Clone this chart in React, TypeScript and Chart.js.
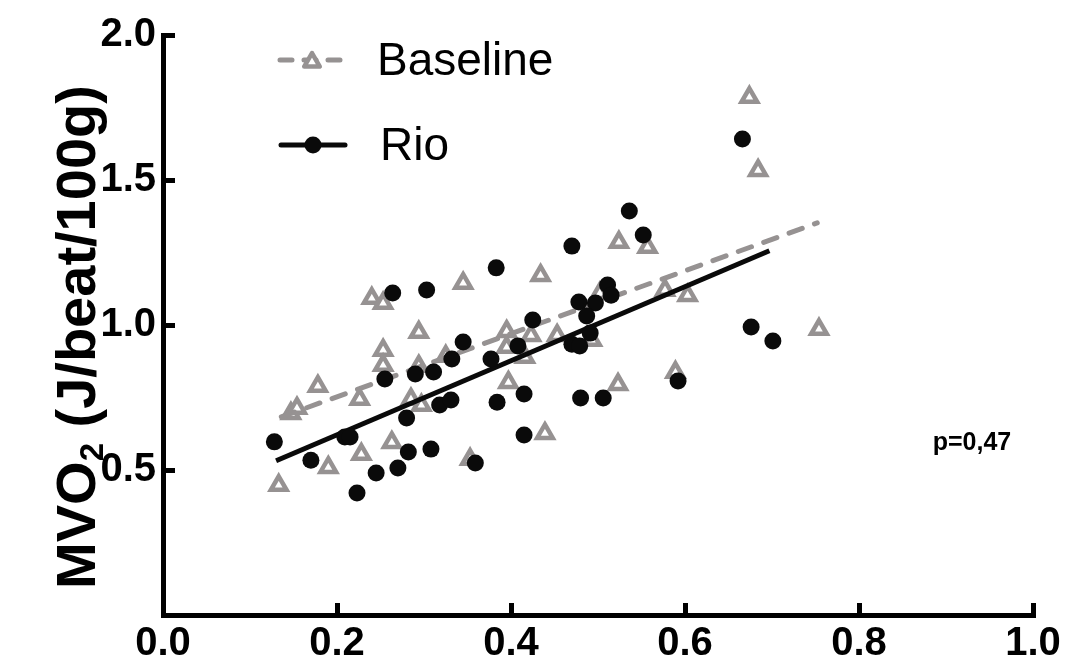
import React, { useEffect, useRef } from 'react';
import { Chart, registerables } from 'chart.js';

Chart.register(...registerables);

// ---- Data ----
const baselineX = [0.133, 0.147, 0.154, 0.178, 0.190, 0.228, 0.226, 0.240, 0.253, 0.253, 0.253, 0.263, 0.285, 0.297, 0.294, 0.294, 0.325, 0.345, 0.353, 0.395, 0.395, 0.397, 0.416, 0.423, 0.434, 0.439, 0.453, 0.493, 0.502, 0.524, 0.557, 0.523, 0.577, 0.603, 0.589, 0.674, 0.684, 0.754];
const baselineY = [0.447, 0.695, 0.713, 0.789, 0.509, 0.554, 0.744, 1.092, 1.075, 0.913, 0.861, 0.595, 0.744, 0.723, 0.975, 0.858, 0.892, 1.144, 0.537, 0.978, 0.923, 0.802, 0.889, 0.964, 1.171, 0.626, 0.964, 0.947, 1.109, 1.285, 1.268, 0.795, 1.120, 1.102, 0.837, 1.785, 1.533, 0.985];

const rioX = [0.128, 0.170, 0.209, 0.215, 0.223, 0.245, 0.270, 0.282, 0.280, 0.308, 0.359, 0.318, 0.331, 0.384, 0.415, 0.415, 0.255, 0.290, 0.311, 0.332, 0.345, 0.377, 0.264, 0.303, 0.383, 0.408, 0.425, 0.470, 0.536, 0.552, 0.666, 0.511, 0.515, 0.478, 0.497, 0.487, 0.491, 0.470, 0.479, 0.480, 0.506, 0.592, 0.676, 0.701];
const rioY = [0.597, 0.534, 0.614, 0.614, 0.421, 0.490, 0.507, 0.562, 0.679, 0.572, 0.524, 0.724, 0.741, 0.734, 0.762, 0.621, 0.814, 0.831, 0.838, 0.883, 0.941, 0.883, 1.110, 1.121, 1.197, 0.928, 1.017, 1.272, 1.393, 1.310, 1.641, 1.138, 1.103, 1.079, 1.076, 1.031, 0.972, 0.934, 0.928, 0.748, 0.748, 0.807, 0.993, 0.945];

const baselineFitX = [0.136, 0.752];
const baselineFitY = [0.683, 1.352];
const rioFitX = [0.130, 0.697];
const rioFitY = [0.532, 1.256];

const xTicks = [0, 0.2, 0.4, 0.6, 0.8, 1.0];
const yTicks = [0.5, 1.0, 1.5, 2.0];
const seriesNames = ['Baseline', 'Rio'];
const yTitleMain = 'MVO';
const yTitleSub = '2';
const yTitleRest = ' (J/beat/100g)';
const pValueText = 'p=0,47';

const GRAY = 'rgb(150,146,146)';
const BLACK = '#0a0a0a';
const FONT = '"Liberation Sans", Arial, Helvetica, sans-serif';

const toPoints = (xs: number[], ys: number[]) => xs.map((x, i) => ({ x, y: ys[i] }));

const decorPlugin = {
  id: 'decor',
  afterDraw(chart: any) {
    const ctx = chart.ctx as CanvasRenderingContext2D;
    ctx.save();

    // ---- Legend ----
    ctx.strokeStyle = GRAY;
    ctx.lineWidth = 5;
    ctx.lineCap = 'round';
    ctx.setLineDash([12, 12]);
    ctx.beginPath();
    ctx.moveTo(280, 60);
    ctx.lineTo(342, 60);
    ctx.stroke();
    ctx.setLineDash([]);
    const r = 9;
    const tx = 312, ty = 62;
    ctx.beginPath();
    for (let k = 0; k < 3; k++) {
      const a = k * (2 * Math.PI / 3);
      const px = tx + Math.sin(a) * r;
      const py = ty - Math.cos(a) * r;
      if (k === 0) ctx.moveTo(px, py); else ctx.lineTo(px, py);
    }
    ctx.closePath();
    ctx.fillStyle = '#fff';
    ctx.fill();
    ctx.lineWidth = 4.5;
    ctx.lineJoin = 'round';
    ctx.strokeStyle = GRAY;
    ctx.stroke();

    ctx.strokeStyle = BLACK;
    ctx.lineWidth = 5;
    ctx.lineCap = 'round';
    ctx.beginPath();
    ctx.moveTo(281, 145);
    ctx.lineTo(345, 145);
    ctx.stroke();
    ctx.beginPath();
    ctx.arc(313, 145, 8.5, 0, Math.PI * 2);
    ctx.fillStyle = BLACK;
    ctx.fill();

    ctx.fillStyle = '#000';
    ctx.font = `46px ${FONT}`;
    ctx.textAlign = 'left';
    ctx.textBaseline = 'middle';
    ctx.fillText(seriesNames[0], 377, 62);
    ctx.fillText(seriesNames[1], 380, 147);

    // ---- p value ----
    ctx.font = `bold 25px ${FONT}`;
    ctx.textAlign = 'center';
    ctx.textBaseline = 'alphabetic';
    ctx.fillText(pValueText, 972, 450);

    // ---- Y title with subscript ----
    ctx.translate(75, 337);
    ctx.rotate(-Math.PI / 2);
    const mainFont = `bold 56px ${FONT}`;
    const subFont = `bold 33px ${FONT}`;
    ctx.font = mainFont;
    const w1 = ctx.measureText(yTitleMain).width;
    const w3 = ctx.measureText(yTitleRest).width;
    ctx.font = subFont;
    const w2 = ctx.measureText(yTitleSub).width;
    let x0 = -(w1 + w2 + w3) / 2;
    ctx.textAlign = 'left';
    ctx.textBaseline = 'alphabetic';
    ctx.font = mainFont;
    ctx.fillText(yTitleMain, x0, 20);
    x0 += w1;
    ctx.font = subFont;
    ctx.fillText(yTitleSub, x0, 28);
    x0 += w2;
    ctx.font = mainFont;
    ctx.fillText(yTitleRest, x0, 20);

    ctx.restore();
  },
};

const zeroPadding = (scale: any) => {
  scale.paddingTop = 0;
  scale.paddingBottom = 0;
  scale.paddingLeft = 0;
  scale.paddingRight = 0;
};

export default function App() {
  const canvasRef = useRef<HTMLCanvasElement | null>(null);

  useEffect(() => {
    const canvas = canvasRef.current;
    if (!canvas) return;
    const chart = new Chart(canvas, {
      type: 'scatter',
      data: {
        datasets: [
          {
            label: seriesNames[1],
            data: toPoints(rioX, rioY),
            pointStyle: 'circle',
            pointRadius: 8.5,
            pointBackgroundColor: BLACK,
            pointBorderColor: BLACK,
            pointBorderWidth: 0,
            showLine: false,
          },
          {
            label: seriesNames[1] + ' fit',
            data: toPoints(rioFitX, rioFitY),
            showLine: true,
            borderColor: BLACK,
            borderWidth: 5,
            borderCapStyle: 'butt',
            pointRadius: 0,
          },
          {
            label: seriesNames[0] + ' fit',
            data: toPoints(baselineFitX, baselineFitY),
            showLine: true,
            borderColor: GRAY,
            borderWidth: 5,
            borderDash: [14, 13],
            borderCapStyle: 'round',
            pointRadius: 0,
          },
          {
            label: seriesNames[0],
            data: toPoints(baselineX, baselineY),
            pointStyle: 'triangle',
            pointRadius: 9,
            pointBackgroundColor: '#ffffff',
            pointBorderColor: GRAY,
            pointBorderWidth: 4.5,
            showLine: false,
          },
        ],
      },
      options: {
        animation: false,
        responsive: false,
        maintainAspectRatio: false,
        layout: { padding: { left: 0, right: 32, top: 35, bottom: 0 } },
        plugins: {
          legend: { display: false },
          tooltip: { enabled: false },
        },
        scales: {
          x: {
            type: 'linear',
            min: 0,
            max: 1,
            afterBuildTicks: (scale: any) => {
              scale.ticks = xTicks.map((v) => ({ value: v }));
            },
            afterFit: (scale: any) => {
              scale.height = 54;
              zeroPadding(scale);
            },
            ticks: {
              color: '#000',
              font: { family: FONT, size: 40, weight: 'bold' },
              padding: 17,
              maxRotation: 0,
              autoSkip: false,
              callback: (v: any) => Number(v).toFixed(1),
            },
            grid: {
              drawOnChartArea: false,
              drawTicks: true,
              tickLength: -12,
              lineWidth: 5,
              color: '#000',
            },
            border: { display: true, width: 5, color: '#000' },
          },
          y: {
            type: 'linear',
            min: 0,
            max: 2,
            afterBuildTicks: (scale: any) => {
              scale.ticks = yTicks.map((v) => ({ value: v }));
            },
            afterFit: (scale: any) => {
              scale.width = 163;
              zeroPadding(scale);
            },
            ticks: {
              color: '#000',
              font: { family: FONT, size: 40, weight: 'bold' },
              padding: 19,
              autoSkip: false,
              callback: (v: any) => Number(v).toFixed(1),
            },
            grid: {
              drawOnChartArea: false,
              drawTicks: true,
              tickLength: -12,
              lineWidth: 5,
              color: '#000',
            },
            border: { display: true, width: 5, color: '#000' },
          },
        },
      },
      plugins: [decorPlugin],
    } as any);
    return () => chart.destroy();
  }, []);

  return (
    <div style={{ position: 'absolute', left: 0, top: 0, width: 1065, height: 669, background: '#fff' }}>
      <canvas ref={canvasRef} width={1065} height={669} style={{ width: 1065, height: 669 }} />
    </div>
  );
}
